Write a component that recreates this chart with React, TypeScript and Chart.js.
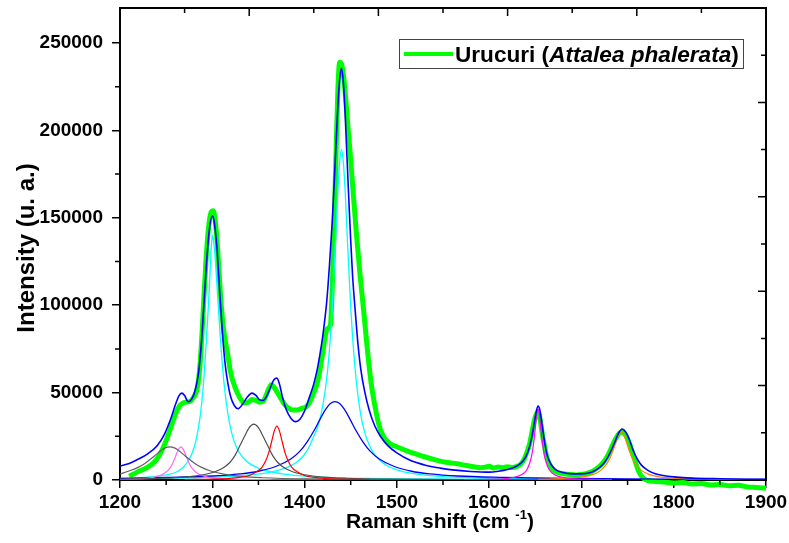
import { useEffect, useRef } from "react";
import { Chart, registerables } from "chart.js";

Chart.register(...registerables);

type Pt = [number, number];

const FONT = '"Liberation Sans", Arial, Helvetica, sans-serif';

const X_MIN = 1200;
const X_MAX = 1900;
const Y_MIN = 0;
const Y_MAX = 270000;

const xTickValues = [1200, 1300, 1400, 1500, 1600, 1700, 1800, 1900];
const xMinorTickValues = [1250, 1350, 1450, 1550, 1650, 1750, 1850];
const yTickValues = [0, 50000, 100000, 150000, 200000, 250000];
const yMinorTickValues = [25000, 75000, 125000, 175000, 225000];

const xTitle = "Raman shift (cm";
const xTitleSup = "-1";
const yTitle = "Intensity (u. a.)";
const legendName = "Urucuri (";
const legendItalic = "Attalea phalerata";
const legendEnd = ")";

// Measured spectrum (green)
const urucuriSpectrum: Pt[] = [
  [1210, 2200], [1215, 3500], [1220, 4800], [1225, 6000], [1230, 7300], [1235, 9200], [1240, 12000],
  [1245, 16500], [1250, 22500], [1255, 30000], [1260, 37500], [1264, 42000], [1268, 44000], [1272, 44600],
  [1276, 45000], [1280, 47500], [1283, 51000], [1285, 57000], [1287, 68000], [1289, 85000], [1291, 105000],
  [1293, 124000], [1295, 139000], [1297, 149000], [1299, 153500], [1301, 154000], [1303, 149000],
  [1305, 138000], [1307, 122000], [1309, 105000], [1311, 92000], [1313, 83000], [1315, 77000],
  [1317, 71000], [1319, 64000], [1321, 59000], [1324, 54000], [1327, 50000], [1331, 46000], [1335, 44000],
  [1339, 44500], [1343, 46000], [1347, 45500], [1351, 44500], [1355, 45000], [1358, 48000], [1361, 52000],
  [1364, 54500], [1367, 53000], [1370, 50500], [1374, 47000], [1378, 43500], [1383, 41000], [1387, 40000],
  [1392, 40000], [1397, 41000], [1402, 42000], [1406, 45000], [1410, 50000], [1414, 56000], [1417, 64000],
  [1420, 74000], [1422, 81000], [1424, 86000], [1426, 87000], [1428, 88500], [1430, 110000], [1432, 145000],
  [1434, 185000], [1436, 222000], [1438, 239000], [1440, 238000], [1442, 232000], [1444, 222000],
  [1447, 202000], [1450, 183000], [1453, 162000], [1456, 142000], [1460, 118000], [1464, 97000],
  [1468, 75000], [1472, 56000], [1476, 43000], [1479, 35000], [1482, 29000], [1486, 24500], [1490, 22000],
  [1495, 20000], [1500, 19000], [1510, 16800], [1518, 15400], [1530, 13300], [1540, 11800], [1547, 10800],
  [1555, 10000], [1565, 9300], [1575, 8300], [1585, 7500], [1590, 7000], [1595, 7300], [1600, 7800],
  [1605, 6900], [1610, 7500], [1615, 7000], [1620, 7600], [1625, 7100], [1630, 7800], [1634, 9000],
  [1638, 12000], [1641, 16000], [1644, 21000], [1647, 29000], [1650, 36000], [1652, 38500], [1654, 37500],
  [1656, 32000], [1658, 25000], [1660, 19500], [1662, 14000], [1665, 9500], [1668, 6500], [1672, 4800],
  [1678, 3800], [1685, 3300], [1690, 3100], [1695, 2900], [1700, 3200], [1705, 3600], [1710, 4500],
  [1715, 6000], [1720, 8000], [1725, 11000], [1729, 14500], [1733, 19000], [1737, 23500], [1741, 26800],
  [1744, 27500], [1747, 26300], [1750, 23500], [1753, 19500], [1756, 14500], [1759, 9500], [1762, 5000],
  [1765, 2200], [1768, 600], [1772, -300], [1780, -800], [1790, -1200], [1800, -1700], [1810, -1500],
  [1820, -2300], [1830, -2000], [1840, -2800], [1850, -2600], [1860, -3300], [1870, -3000], [1880, -4000],
  [1890, -4300], [1900, -4700],
];

// Cumulative fit (blue)
const fitSum: Pt[] = [
  [1200, 8000], [1210, 9500], [1220, 12000], [1230, 15000], [1240, 19500], [1248, 26000], [1255, 35000],
  [1260, 43000], [1264, 48300], [1267, 49700], [1270, 48300], [1274, 44800], [1278, 46500], [1282, 52500],
  [1285, 61000], [1288, 77000], [1291, 101000], [1294, 126000], [1297, 144000], [1300, 151000],
  [1302, 148000], [1305, 133000], [1308, 108000], [1311, 84000], [1314, 66000], [1317, 55000],
  [1320, 47500], [1324, 42500], [1328, 40800], [1333, 43500], [1338, 47500], [1343, 49700], [1347, 48500],
  [1351, 46000], [1355, 45500], [1359, 48000], [1363, 53000], [1367, 57500], [1370, 58300], [1373, 54500],
  [1376, 47500], [1380, 40500], [1385, 35500], [1390, 33400], [1395, 34800], [1400, 39500], [1405, 47000],
  [1410, 55000], [1414, 64000], [1417, 73000], [1420, 83500], [1424, 102000], [1427, 123000],
  [1430, 148000], [1433, 180000], [1436, 213000], [1438, 229000], [1440, 235500], [1442, 227500],
  [1444, 209000], [1446, 184000], [1448, 160000], [1450, 137000], [1452, 117000], [1455, 96000],
  [1458, 77000], [1461, 63000], [1465, 51000], [1470, 40000], [1476, 31000], [1482, 25200], [1490, 19800],
  [1500, 15500], [1515, 11100], [1530, 8600], [1547, 6800], [1560, 5800], [1580, 4900], [1600, 4500],
  [1610, 5000], [1620, 6000], [1630, 8000], [1637, 11000], [1642, 16000], [1646, 24000], [1649, 33000],
  [1651, 39000], [1653, 42300], [1655, 40000], [1657, 33000], [1660, 22000], [1663, 14000], [1667, 9000],
  [1672, 6000], [1680, 4300], [1690, 3500], [1700, 3500], [1710, 4300], [1718, 6500], [1725, 10000],
  [1731, 15500], [1736, 21500], [1740, 26500], [1744, 29200], [1748, 27500], [1752, 23000], [1756, 17000],
  [1760, 12500], [1765, 8500], [1772, 5500], [1780, 3600], [1790, 2400], [1800, 1800], [1820, 1100],
  [1850, 700], [1880, 450], [1900, 350],
];

// Fitted bands
const band1300: Pt[] = [
  [1200, 900], [1230, 1600], [1250, 2900], [1260, 4300], [1268, 7000], [1274, 11000], [1280, 18000],
  [1284, 27000], [1287, 37000], [1290, 52000], [1293, 75000], [1295, 92000], [1297, 112000], [1299, 134000],
  [1300, 140000], [1301, 138000], [1303, 128000], [1305, 112000], [1307, 95000], [1310, 72000],
  [1313, 54000], [1317, 37500], [1321, 27000], [1326, 19000], [1332, 13500], [1340, 9500], [1350, 6800],
  [1365, 4500], [1380, 3200], [1400, 2200], [1430, 1400], [1470, 900], [1520, 600], [1600, 350], [1700, 200],
];

const band1440: Pt[] = [
  [1200, 500], [1231, 800], [1281, 1300], [1321, 2100], [1351, 3500], [1366, 4800], [1381, 7200],
  [1391, 10000], [1399, 14000], [1405, 19000], [1410, 25000], [1414, 30000], [1418, 38000], [1422, 50000],
  [1425, 63000], [1428, 82000], [1430, 99000], [1432, 120000], [1434, 142000], [1436, 165000],
  [1438, 182000], [1440, 189000], [1442, 182000], [1444, 165000], [1446, 142000], [1448, 120000],
  [1450, 99000], [1452, 82000], [1454, 68000], [1457, 52000], [1461, 37000], [1465, 27500], [1470, 20000],
  [1476, 14500], [1482, 11000], [1490, 8000], [1500, 5800], [1515, 3900], [1530, 2800], [1560, 1700],
  [1600, 1000], [1650, 600], [1700, 450],
];

const band1433: Pt[] = [
  [1200, 900], [1250, 1500], [1300, 2300], [1330, 3500], [1350, 5000], [1370, 8000], [1385, 12000],
  [1395, 16500], [1403, 22000], [1410, 28000], [1417, 35000], [1423, 40500], [1428, 43700], [1433, 44800],
  [1438, 43700], [1443, 40500], [1449, 35000], [1456, 28000], [1463, 22000], [1471, 16500], [1481, 12000],
  [1496, 8000], [1516, 5000], [1536, 3500], [1566, 2300], [1616, 1500], [1666, 1000], [1750, 600],
  [1900, 300],
];

const band1254: Pt[] = [
  [1200, 3400], [1209, 5000], [1219, 7100], [1227, 9500], [1234, 12300], [1239, 14500], [1244, 16700],
  [1249, 18400], [1254, 19000], [1259, 18400], [1264, 16700], [1269, 14500], [1274, 12300], [1281, 9500],
  [1289, 7100], [1299, 5000], [1314, 3200], [1334, 1900], [1354, 1300], [1404, 600], [1454, 340],
  [1550, 150],
];

const band1266: Pt[] = [
  [1200, 200], [1221, 740], [1236, 1550], [1244, 2700], [1250, 4600], [1254, 6800], [1257, 9500],
  [1260, 13200], [1263, 17100], [1266, 19000], [1269, 17100], [1272, 13200], [1275, 9500], [1278, 6800],
  [1282, 4600], [1288, 2700], [1296, 1550], [1311, 740], [1331, 360], [1366, 150], [1420, 80],
];

const band1345: Pt[] = [
  [1200, 470], [1245, 1000], [1270, 1700], [1290, 3000], [1303, 4700], [1312, 7000], [1319, 10000],
  [1325, 14400], [1330, 19700], [1335, 25000], [1340, 30000], [1345, 32000], [1350, 30000], [1355, 25000],
  [1360, 19700], [1365, 14400], [1371, 10000], [1378, 7000], [1387, 4700], [1400, 3000], [1420, 1700],
  [1445, 1000], [1495, 450], [1595, 170], [1700, 100],
];

const band1370: Pt[] = [
  [1270, 250], [1300, 500], [1325, 1200], [1340, 2600], [1348, 4700], [1354, 7400], [1358, 11100],
  [1361, 15400], [1364, 21300], [1367, 27700], [1370, 30800], [1373, 27700], [1376, 21300], [1379, 15400],
  [1382, 11100], [1386, 7400], [1392, 4700], [1400, 2600], [1415, 1200], [1440, 500], [1470, 250],
];

const band1653: Pt[] = [
  [1573, 200], [1603, 450], [1621, 1000], [1631, 2100], [1637, 3700], [1641, 6000], [1644, 9700],
  [1646, 13800], [1648, 20300], [1649, 24700], [1650, 29800], [1651, 35000], [1652, 39000], [1653, 40500],
  [1654, 39000], [1655, 35000], [1656, 29800], [1657, 24700], [1658, 20300], [1660, 13800], [1662, 9700],
  [1665, 6000], [1669, 3700], [1675, 2100], [1685, 1000], [1703, 450], [1733, 200],
];

const band1743: Pt[] = [
  [1653, 420], [1683, 900], [1701, 1750], [1713, 3200], [1721, 5500], [1727, 8900], [1731, 12600],
  [1734, 16500], [1737, 21300], [1740, 25700], [1743, 27600], [1746, 25700], [1749, 21300], [1752, 16500],
  [1755, 12600], [1759, 8900], [1765, 5500], [1773, 3200], [1785, 1750], [1803, 900], [1833, 420],
  [1893, 160], [1900, 150],
];

const toXY = (pts: Pt[]) => pts.map(([x, y]) => ({ x, y }));

const line = (data: Pt[], color: string, width: number, extra: Record<string, unknown> = {}) => ({
  data: toXY(data),
  borderColor: color,
  backgroundColor: color,
  borderWidth: width,
  pointRadius: 0,
  fill: false,
  cubicInterpolationMode: "monotone" as const,
  borderJoinStyle: "round" as const,
  ...extra,
});

const decorPlugin = {
  id: "decor",
  afterDraw(chart: Chart) {
    const { ctx, chartArea: a } = chart;
    const xs = chart.scales.x;
    const ys = chart.scales.y;
    ctx.save();
    ctx.strokeStyle = "#000";
    ctx.lineWidth = 2;
    ctx.beginPath();
    ctx.moveTo(a.left - 1, a.top);
    ctx.lineTo(a.right, a.top);
    ctx.lineTo(a.right, a.bottom + 1);
    ctx.stroke();

    ctx.lineWidth = 1.5;
    ctx.beginPath();
    xMinorTickValues.forEach((v) => {
      const px = xs.getPixelForValue(v);
      ctx.moveTo(px, a.bottom);
      ctx.lineTo(px, a.bottom + 5);
    });
    yMinorTickValues.forEach((v) => {
      const py = ys.getPixelForValue(v);
      ctx.moveTo(a.left - 5, py);
      ctx.lineTo(a.left, py);
    });
    for (let i = 1; i < 10; i++) {
      const len = i % 2 === 0 ? 8 : 5;
      const px = a.left + ((a.right - a.left) * i) / 10;
      ctx.moveTo(px, a.top);
      ctx.lineTo(px, a.top + len);
      const py = a.bottom - ((a.bottom - a.top) * i) / 10;
      ctx.moveTo(a.right, py);
      ctx.lineTo(a.right - len, py);
    }
    ctx.stroke();

    // x title with superscript
    ctx.fillStyle = "#000";
    ctx.textBaseline = "alphabetic";
    ctx.textAlign = "left";
    const mainFont = `bold 21px ${FONT}`;
    const supFont = `bold 13px ${FONT}`;
    ctx.font = mainFont;
    const w1 = ctx.measureText(xTitle + " ").width;
    const w3 = ctx.measureText(")").width;
    ctx.font = supFont;
    const w2 = ctx.measureText(xTitleSup).width;
    const total = w1 + w2 + w3;
    const cx = (a.left + a.right) / 2 - 3;
    let tx = cx - total / 2;
    const by = 528;
    ctx.font = mainFont;
    ctx.fillText(xTitle + " ", tx, by);
    tx += w1;
    ctx.font = supFont;
    ctx.fillText(xTitleSup, tx, by - 9);
    tx += w2;
    ctx.font = mainFont;
    ctx.fillText(")", tx, by);

    // y title
    ctx.save();
    ctx.translate(27, (a.top + a.bottom) / 2 + 4);
    ctx.rotate(-Math.PI / 2);
    ctx.font = `bold 24px ${FONT}`;
    ctx.textAlign = "center";
    ctx.textBaseline = "middle";
    ctx.fillText(yTitle, 0, 0);
    ctx.restore();

    // legend
    const bx = 399.5;
    const byTop = 39.5;
    const bw = 344;
    const bh = 29;
    ctx.fillStyle = "#fff";
    ctx.fillRect(bx, byTop, bw, bh);
    ctx.strokeStyle = "#444";
    ctx.lineWidth = 1;
    ctx.strokeRect(bx, byTop, bw, bh);
    ctx.strokeStyle = "#00FF00";
    ctx.lineWidth = 4;
    ctx.beginPath();
    ctx.moveTo(404, 54);
    ctx.lineTo(453, 54);
    ctx.stroke();
    ctx.fillStyle = "#000";
    ctx.textAlign = "left";
    ctx.textBaseline = "alphabetic";
    let lx = 455;
    const lb = 62;
    const lf = 22.6;
    ctx.font = `bold ${lf}px ${FONT}`;
    ctx.fillText(legendName, lx, lb);
    lx += ctx.measureText(legendName).width;
    ctx.font = `italic bold ${lf}px ${FONT}`;
    ctx.fillText(legendItalic, lx, lb);
    lx += ctx.measureText(legendItalic).width;
    ctx.font = `bold ${lf}px ${FONT}`;
    ctx.fillText(legendEnd, lx, lb);

    ctx.restore();
  },
};

export default function App() {
  const ref = useRef<HTMLCanvasElement>(null);

  useEffect(() => {
    document.body.style.margin = "0";
    document.body.style.overflow = "hidden";
    const canvas = ref.current;
    if (!canvas) return;
    const chart = new Chart(canvas, {
      type: "line",
      data: {
        datasets: [
          line(fitSum, "#0000FF", 1.6),
          line(band1653, "#FF00FF", 1.2),
          line(band1743, "#FF8000", 1.2),
          line(band1370, "#FF0000", 1.2),
          line(band1345, "#505050", 1.2),
          line(band1254, "#606060", 1.2),
          line(band1266, "#FF66FF", 1.2),
          line(band1433, "#0000FF", 1.3),
          line(band1440, "#00FFFF", 1.3),
          line(band1300, "#00FFFF", 1.3),
          line(urucuriSpectrum, "#00FF00", 5, { clip: false }),
        ],
      },
      plugins: [decorPlugin],
      options: {
        responsive: false,
        devicePixelRatio: 1,
        animation: false,
        events: [],
        parsing: true,
        layout: { padding: { top: 8, right: 23, left: 0, bottom: 0 } },
        plugins: {
          legend: { display: false },
          tooltip: { enabled: false },
        },
        scales: {
          x: {
            type: "linear",
            min: X_MIN,
            max: X_MAX,
            border: { display: true, color: "#000", width: 2 },
            grid: { display: true, drawOnChartArea: false, drawTicks: true, tickLength: 8, color: "#000", lineWidth: 1.5 },
            ticks: {
              color: "#000",
              font: { family: FONT, size: 19, weight: "bold" },
              padding: 3,
              autoSkip: false,
              maxRotation: 0,
              callback: (v: number | string) => String(v),
            },
            afterBuildTicks: (s: any) => {
              s.ticks = xTickValues.map((value) => ({ value }));
            },
            afterFit: (s: any) => {
              s.height = 63;
              s.paddingLeft = 0;
              s.paddingRight = 0;
            },
          },
          y: {
            type: "linear",
            min: Y_MIN,
            max: Y_MAX,
            border: { display: true, color: "#000", width: 2 },
            grid: { display: true, drawOnChartArea: false, drawTicks: true, tickLength: 8, color: "#000", lineWidth: 1.5 },
            ticks: {
              color: "#000",
              font: { family: FONT, size: 19, weight: "bold" },
              padding: 9,
              autoSkip: false,
              callback: (v: number | string) => String(v),
            },
            afterBuildTicks: (s: any) => {
              s.ticks = yTickValues.map((value) => ({ value }));
            },
            afterFit: (s: any) => {
              s.width = 120;
              s.paddingTop = 0;
              s.paddingBottom = 0;
            },
          },
        },
      },
    });
    return () => chart.destroy();
  }, []);

  return (
    <div style={{ width: 789, height: 543, overflow: "hidden" }}>
      <canvas ref={ref} width={789} height={543} style={{ display: "block", width: 789, height: 543 }} />
    </div>
  );
}
